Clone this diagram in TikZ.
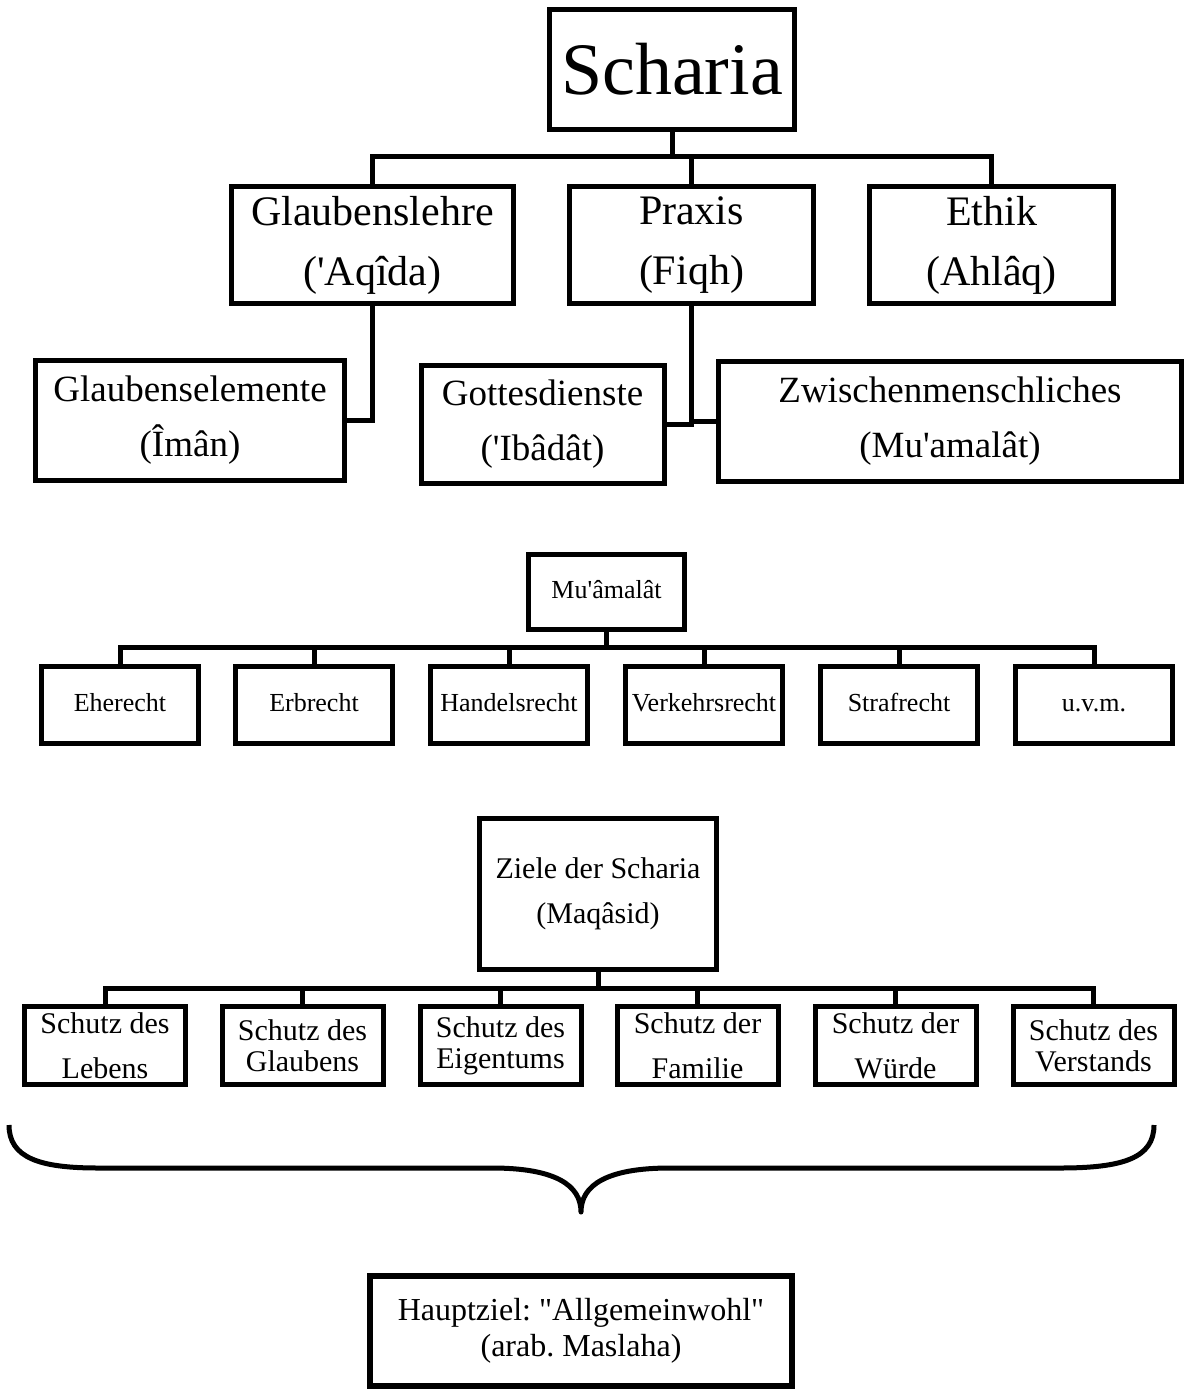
\documentclass[tikz,border=0pt]{standalone}
\usepackage{fontspec}
\newfontfamily\tnr{Liberation Serif}
\frenchspacing
\begin{document}
\frenchspacing
\begin{tikzpicture}[x=1pt,y=-1pt]
\tikzset{
  box/.style={draw, line width=5pt, inner sep=0pt, align=center, fill=white},
  conn/.style={line width=5pt},
  fA/.style={font=\tnr\fontsize{74}{80}\selectfont},
  fB/.style={font=\tnr\fontsize{42}{60}\selectfont},
  fC/.style={font=\tnr\fontsize{37}{55}\selectfont},
  fD/.style={font=\tnr\fontsize{26}{30}\selectfont},
  fE/.style={font=\tnr\fontsize{30}{45}\selectfont},
  fEt/.style={font=\tnr\fontsize{30}{31}\selectfont},
  fF/.style={font=\tnr\fontsize{32}{36}\selectfont},
  lvlB/.style={box, fB, minimum height=117pt},
  lvlC/.style={box, fC, minimum height=120pt},
  muchild/.style={box, fD, minimum width=157pt, minimum height=77pt, execute at begin node=\strut},
  schutz/.style={box, fE, minimum width=161pt, minimum height=78pt},
  schutzt/.style={box, fEt, minimum width=161pt, minimum height=78pt},
}
\useasboundingbox (0,0) rectangle (1187,1394);

% ---- top tree
\node[box, fA, minimum width=245pt, minimum height=120pt] (scharia) at (672,69.5) {Scharia};
\node[lvlB, minimum width=282pt] (glaube) at (372.5,245) {Glaubenslehre\\('Aqîda)};
\node[lvlB, minimum width=244pt] (praxis) at (691.5,245) {Praxis\\(Fiqh)};
\node[lvlB, minimum width=244pt] (ethik) at (991.5,245) {Ethik\\(Ahlâq)};
\node[lvlC, minimum width=309pt] (elem) at (190,420.5) {Glaubenselemente\\(Îmân)};
\node[lvlC, minimum width=243pt, minimum height=118pt] (gottes) at (542.5,424) {Gottesdienste\\('Ibâdât)};
\node[lvlC, minimum width=463pt] (zwi) at (950,421) {Zwischenmenschliches\\(Mu'amalât)};

\coordinate (bar1) at (672,156);
\draw[conn] (scharia.south) -- (bar1);
\draw[conn] (glaube.north) |- (bar1) -| (ethik.north);
\draw[conn] (praxis.north) -- (praxis.north |- bar1);
\draw[conn] (glaube.south) |- (elem.east);
\draw[conn] (praxis.south) |- (gottes.east);
\draw[conn] (praxis.south |- zwi.west) -- (zwi.west);

% ---- middle tree
\node[box, fD, minimum width=156pt, minimum height=75pt, execute at begin node=\strut] (mu) at (606.5,592) {Mu'âmalât};
\node[muchild] (m1) at (120,705) {Eherecht};
\node[muchild] (m2) at (314,705) {Erbrecht};
\node[muchild] (m3) at (509,705) {Handelsrecht};
\node[muchild] (m4) at (704,705) {Verkehrsrecht};
\node[muchild] (m5) at (899,705) {Strafrecht};
\node[muchild] (m6) at (1094,705) {u.v.m.};
\coordinate (bar2) at (606.5,647);
\draw[conn] (mu.south) -- (bar2);
\draw[conn] (m1.north) |- (bar2) -| (m6.north);
\foreach \m in {m2,m3,m4,m5} \draw[conn] (\m.north) -- (\m.north |- bar2);

% ---- lower tree
\node[box, fE, minimum width=237pt, minimum height=151pt] (ziele) at (598,894) {Ziele der Scharia\\(Maqâsid)};
\node[schutz]  (s1) at (105,1045.5) {Schutz des\\Lebens};
\node[schutzt] (s2) at (302.5,1045.5) {Schutz des\\Glaubens};
\node[schutzt] (s3) at (500.5,1045.5) {Schutz des\\Eigentums};
\node[schutz]  (s4) at (697.5,1045.5) {Schutz der\\Familie};
\node[schutz]  (s5) at (895.5,1045.5) {Schutz der\\Würde};
\node[schutzt] (s6) at (1093.5,1045.5) {Schutz des\\Verstands};
\coordinate (bar3) at (598,988);
\draw[conn] (ziele.south) -- (bar3);
\draw[conn] (s1.north) |- (bar3) -| (s6.north);
\foreach \s in {s2,s3,s4,s5} \draw[conn] (\s.north) -- (\s.north |- bar3);

% ---- brace
\coordinate (bl) at (9,1125);
\coordinate (br) at (1154,1125);
\coordinate (tip) at (581,1212);
\draw[line width=5pt, line join=round]
  (bl) .. controls (9,1158) and (40,1168) .. (98,1168)
  -- (492,1168) .. controls (555,1168) and (581,1185) .. (tip)
  .. controls (581,1185) and (607,1168) .. (670,1168)
  -- (1060,1168) .. controls (1123,1168) and (1154,1158) .. (br);

% ---- main goal
\node[box, fF, line width=6pt, minimum width=422pt, minimum height=110pt] (haupt) at (581,1331) {Hauptziel: "Allgemeinwohl"\\(arab. Maslaha)};
\end{tikzpicture}
\end{document}
